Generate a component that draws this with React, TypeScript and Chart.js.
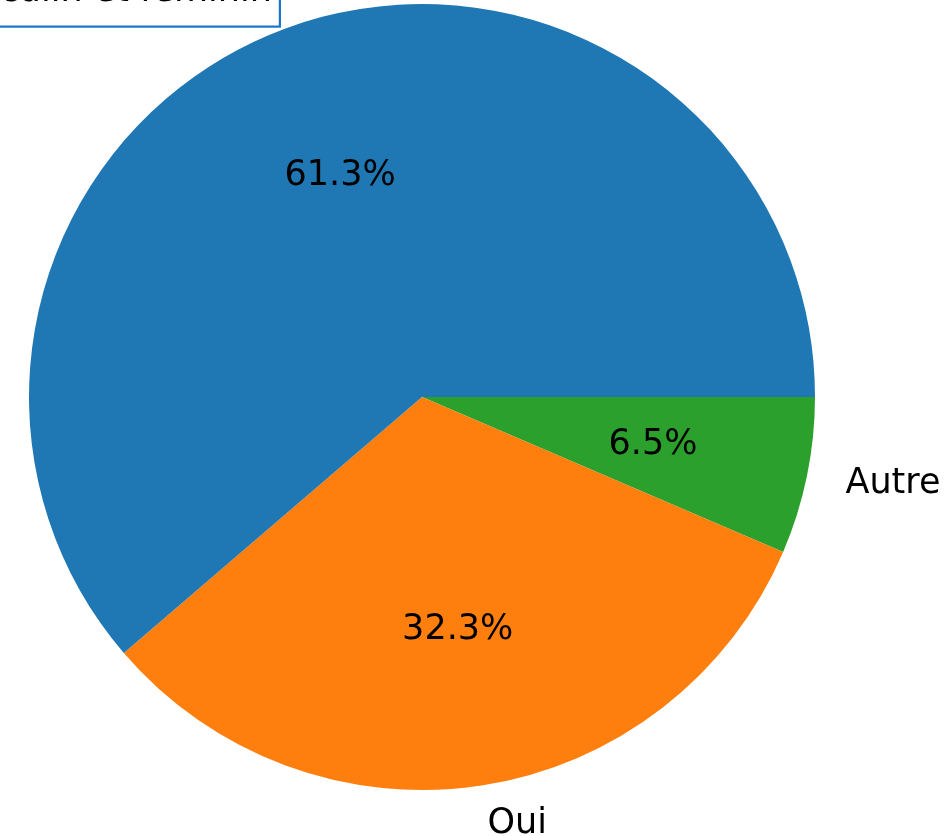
import React, { useEffect, useRef } from "react";
import { Chart, registerables } from "chart.js";

Chart.register(...registerables);

const categories = ["Masculin et féminin", "Oui", "Autre"];
const counts = [19, 10, 2];
const colors = ["#1f77b4", "#ff7f0e", "#2ca02c"];
const boxedLabel = "Masculin et féminin";

const FONT = "35px 'DejaVu Sans'";

const labelPlugin = {
  id: "pieLabels",
  afterDatasetsDraw(chart: any) {
    const ctx = chart.ctx;
    const meta = chart.getDatasetMeta(0);
    const data = chart.data.datasets[0].data as number[];
    const labels = chart.data.labels as string[];
    const total = data.reduce((a, b) => a + b, 0);
    ctx.save();
    ctx.font = FONT;
    ctx.fillStyle = "#000";
    meta.data.forEach((arc: any, i: number) => {
      const p = arc.getProps(["x", "y", "startAngle", "endAngle", "outerRadius"], true);
      const mid = (p.startAngle + p.endAngle) / 2;
      const c = Math.cos(mid);
      const s = Math.sin(mid);
      // percentage label
      ctx.textAlign = "center";
      ctx.textBaseline = "middle";
      const pct = ((data[i] / total) * 100).toFixed(1) + "%";
      ctx.fillText(pct, p.x + c * p.outerRadius * 0.6, p.y + s * p.outerRadius * 0.6);
      // outer label
      const lx = p.x + c * p.outerRadius * 1.1;
      const ly = p.y + s * p.outerRadius * 1.1;
      ctx.textAlign = c >= 0 ? "left" : "right";
      const text = labels[i];
      if (text === boxedLabel) {
        const w = ctx.measureText(text).width;
        const padX = 8;
        const top = ly - 40;
        const bottom = ly + 35;
        const left = c >= 0 ? lx - padX : lx - w - padX;
        ctx.fillStyle = "#fff";
        ctx.fillRect(left, top, w + 2 * padX, bottom - top);
        ctx.strokeStyle = "#1874cd";
        ctx.lineWidth = 2.2;
        ctx.strokeRect(left, top, w + 2 * padX, bottom - top);
        ctx.fillStyle = "#000";
      }
      ctx.fillText(text, lx, ly);
    });
    ctx.restore();
  },
};

export default function App() {
  const ref = useRef<HTMLCanvasElement | null>(null);
  useEffect(() => {
    if (!ref.current) return;
    const chart = new Chart(ref.current, {
      type: "pie",
      data: {
        labels: [...categories].reverse(),
        datasets: [
          {
            data: [...counts].reverse(),
            backgroundColor: [...colors].reverse(),
            borderWidth: 0,
          },
        ],
      },
      options: {
        responsive: false,
        animation: false,
        rotation: 90,
        layout: { padding: { left: 29, right: 135, top: 4, bottom: 46 } },
        plugins: {
          legend: { display: false },
          tooltip: { enabled: false },
        },
      },
      plugins: [labelPlugin],
    });
    return () => chart.destroy();
  }, []);
  return (
    <div style={{ position: "absolute", left: 0, top: 0, width: 950, height: 836, background: "#fff" }}>
      <canvas ref={ref} width={950} height={836} />
    </div>
  );
}
